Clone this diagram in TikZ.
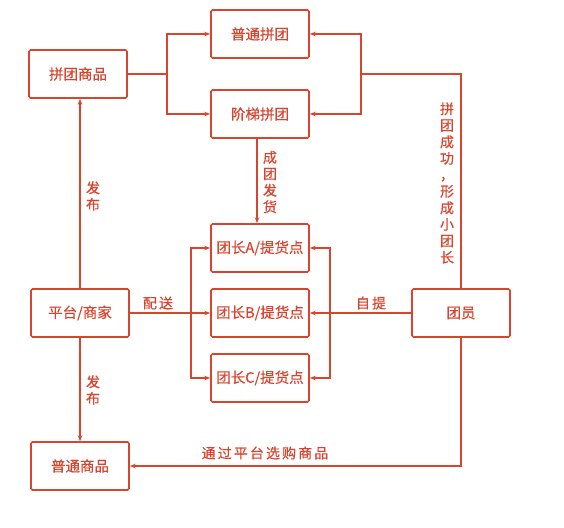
\documentclass[tikz,border=0pt]{standalone}
\usepackage{fontspec}
\setmainfont{Noto Sans CJK SC}[FakeBold=0.5]
\newfontfamily\lblfont{Noto Sans CJK SC}[LetterSpace=15,FakeBold=0.5]
\usetikzlibrary{arrows.meta}
\definecolor{tred}{HTML}{D9442E}
\begin{document}
\begin{tikzpicture}[x=1pt,y=-1pt,->,>={Stealth[length=6pt,width=4.5pt]},line width=1.6pt,color=tred]
	\tikzstyle{gbox}=[draw=tred,rounded corners=1.5pt,minimum width=98pt,minimum height=48pt,inner sep=0pt,font=\fontsize{14.5}{16}\selectfont]
	\tikzstyle{note}=[inner sep=1pt,font=\lblfont\fontsize{14}{16}\selectfont]
	\tikzstyle{vnote}=[inner sep=1pt,align=center,font=\fontsize{14}{16.5}\selectfont]
	\useasboundingbox (0,0) rectangle (564,527);
	\node[gbox] (G-pt) at (260,34) {普通拼团};
	\node[gbox] (G-jt) at (260,114) {阶梯拼团};
	\node[gbox] (G-goods) at (78,74) {拼团商品};
	\node[gbox] (L-a) at (260,248) {团长A/提货点};
	\node[gbox] (L-b) at (260,313) {团长B/提货点};
	\node[gbox] (L-c) at (260,378) {团长C/提货点};
	\node[gbox] (P-shop) at (80,313) {平台/商家};
	\node[gbox] (M-user) at (461,313) {团员};
	\node[gbox] (P-goods) at (80,466) {普通商品};
	% group buying branches
	\coordinate (J-left) at (167,74);
	\coordinate (J-right) at (361,74);
	\draw[-] (G-goods) -- (J-left);
	\draw (J-left) |- (G-pt);
	\draw (J-left) |- (G-jt);
	\draw[-] (M-user) |- (J-right);
	\draw (J-right) |- (G-pt);
	\draw (J-right) |- (G-jt);
	\node[vnote] (T-success) at (447,183) {拼\\团\\成\\功\\，\\形\\成\\小\\团\\长};
	\draw ([xshift=-3pt]G-jt.south) -- ([xshift=-3pt]L-a.north);
	\node[vnote] (T-ship) at (270,182) {成\\团\\发\\货};
	% publishing
	\draw (P-shop.north) -- (P-shop.north |- G-goods.south);
	\node[vnote] (T-pub1) at (93,196) {发\\布};
	\draw (P-shop) -- (P-goods);
	\node[vnote] (T-pub2) at (93,390) {发\\布};
	% delivery and pick-up
	\coordinate (J-send) at (191,313);
	\coordinate (J-pick) at (330,313);
	\draw[-] (P-shop) -- (J-send);
	\node[note] (T-send) at (158,303) {配送};
	\draw (J-send) |- (L-a);
	\draw (J-send) -- (L-b);
	\draw (J-send) |- (L-c);
	\draw[-] (M-user) -- (J-pick);
	\node[note] (T-pick) at (371,303) {自提};
	\draw (J-pick) |- (L-a);
	\draw (J-pick) -- (L-b);
	\draw (J-pick) |- (L-c);
	% buying
	\draw (M-user) |- (P-goods);
	\node[note] (T-buy) at (265,453) {通过平台选购商品};
\end{tikzpicture}
\end{document}
